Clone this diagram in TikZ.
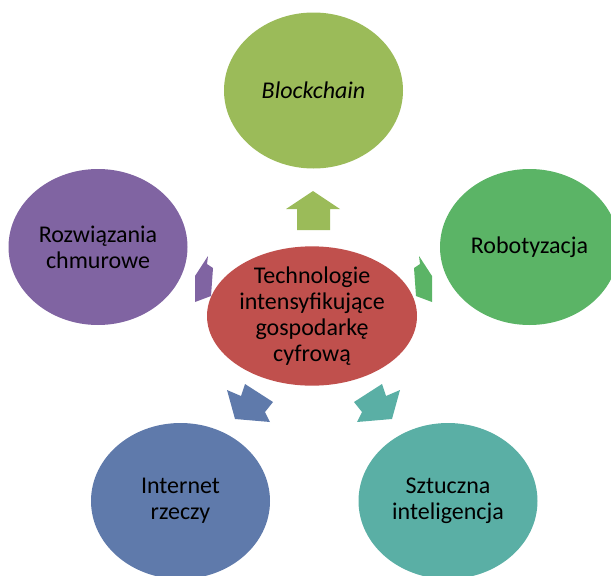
\documentclass[tikz,border=0pt]{standalone}
\usepackage{fontspec}
\setmainfont{Carlito}
\usetikzlibrary{shapes.geometric}

\definecolor{cRed}{HTML}{C0504D}
\definecolor{cLime}{HTML}{9BBB59}
\definecolor{cGreen}{HTML}{5BB466}
\definecolor{cTeal}{HTML}{5AAFA5}
\definecolor{cBlue}{HTML}{5F7AAB}
\definecolor{cPurple}{HTML}{8064A2}

\tikzset{
  bubble/.style={ellipse, draw=none, inner sep=0pt, align=center,
    minimum width=179pt, minimum height=156pt,
    font=\fontsize{24}{26}\selectfont, text=black},
  hub/.style={ellipse, draw=none, fill=cRed, inner sep=0pt, align=center,
    minimum width=210pt, minimum height=132pt,
    font=\fontsize{24}{26}\selectfont, text=black},
  blockarrow/.style={draw=none}
}

\begin{document}
\begin{tikzpicture}[x=1pt,y=-1pt]
  \useasboundingbox (0,0) rectangle (611,576);
  \clip (0,0) rectangle (611,576);

  % satellite bubbles
  \node[bubble, fill=cLime]   (chain)  at (313.5,90.5) {\itshape Blockchain};
  \node[bubble, fill=cGreen]  (robot)  at (529.5,247)  {Robotyzacja};
  \node[bubble, fill=cPurple] (cloud)  at (98,247)     {Rozwiązania\\chmurowe};
  \node[bubble, fill=cBlue]   (iot)    at (180.5,501)  {Internet\\rzeczy};
  \node[bubble, fill=cTeal]   (ai)     at (448,501)    {Sztuczna\\inteligencja};

  % central hub
  \node[hub] (hub) at (312,316) {Technologie\\intensyfikujące\\gospodarkę\\cyfrową};

  % outward block arrows
  \fill[cLime, blockarrow] (313,191) -- (340,209) -- (330,209) -- (330,230)
        -- (297,230) -- (297,209) -- (286,209) -- cycle;
  \fill[cPurple, blockarrow] (208,256) -- (195,276) -- (195,302) -- (211,296)
        -- (213,268) -- (207,264) -- cycle;
  \fill[cGreen, blockarrow] (419,256) -- (432,276) -- (432,302) -- (416,296)
        -- (414,268) -- (420,264) -- cycle;
  \fill[cBlue, blockarrow] (227,390) -- (241,396) -- (245,384) -- (273,402)
        -- (265,412) -- (270,422) -- (235,419) -- cycle;
  \fill[cTeal, blockarrow] (400,390) -- (386,396) -- (382,384) -- (354,402)
        -- (362,412) -- (357,422) -- (392,419) -- cycle;
\end{tikzpicture}
\end{document}
